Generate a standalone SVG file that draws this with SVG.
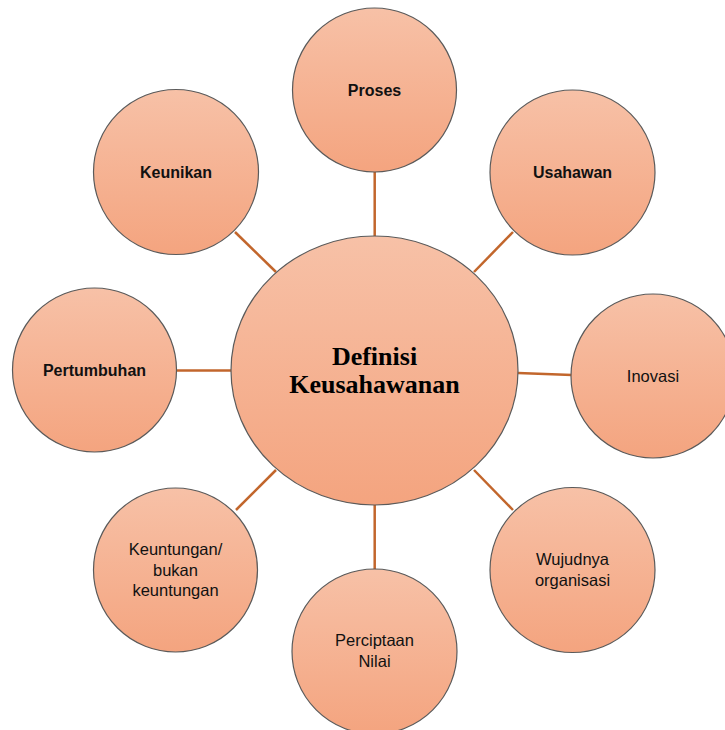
<svg xmlns="http://www.w3.org/2000/svg" width="725" height="730" viewBox="0 0 725 730">
<defs>
<linearGradient id="g" x1="0" y1="0" x2="0" y2="1">
<stop offset="0" stop-color="#F7C1A7"/>
<stop offset="1" stop-color="#F4A47F"/>
</linearGradient>
<style>
.c{fill:url(#g);stroke:#5a5a5a;stroke-width:1.2}
.t{font-family:"Liberation Sans",Arial,sans-serif;font-size:16.5px;fill:#111;text-anchor:middle}
.b{font-weight:bold;font-size:16px}
.m{font-family:"Liberation Serif","Times New Roman",serif;font-size:26px;font-weight:bold;fill:#000;text-anchor:middle}
.l{stroke:#C2662C;stroke-width:2.5;fill:none}
</style>
</defs>
<rect width="725" height="730" fill="#fff"/>
<g id="connectors">
<line class="l" x1="374.7" y1="172" x2="374.7" y2="237"/>
<line class="l" x1="513" y1="232" x2="474" y2="272"/>
<line class="l" x1="518" y1="373" x2="572" y2="375"/>
<line class="l" x1="474" y1="470" x2="513" y2="510"/>
<line class="l" x1="374.7" y1="505" x2="374.7" y2="570"/>
<line class="l" x1="276" y1="470" x2="236" y2="510"/>
<line class="l" x1="176" y1="370.5" x2="232" y2="370.5"/>
<line class="l" x1="235" y1="232" x2="276" y2="272"/>
</g>
<g id="center">
<ellipse class="c" cx="374.5" cy="370.5" rx="143.5" ry="134.5"/>
<text class="m" x="374.5" y="365">Definisi</text>
<text class="m" x="374.5" y="393">Keusahawanan</text>
</g>
<g id="proses">
<circle class="c" cx="374.5" cy="90" r="82"/>
<text class="t b" x="374.5" y="96">Proses</text>
</g>
<g id="usahawan">
<circle class="c" cx="572.5" cy="172.5" r="82.5"/>
<text class="t b" x="572.5" y="178">Usahawan</text>
</g>
<g id="inovasi">
<circle class="c" cx="653" cy="376" r="82"/>
<text class="t" x="653" y="382">Inovasi</text>
</g>
<g id="wujudnya">
<circle class="c" cx="572.5" cy="570" r="82.5"/>
<text class="t" x="572.5" y="565">Wujudnya</text>
<text class="t" x="572.5" y="586">organisasi</text>
</g>
<g id="perciptaan">
<circle class="c" cx="374.5" cy="651.5" r="82.5"/>
<text class="t" x="374.5" y="646">Perciptaan</text>
<text class="t" x="374.5" y="667">Nilai</text>
</g>
<g id="keuntungan">
<circle class="c" cx="175.5" cy="570" r="82"/>
<text class="t" x="175.5" y="555">Keuntungan/</text>
<text class="t" x="175.5" y="576">bukan</text>
<text class="t" x="175.5" y="596">keuntungan</text>
</g>
<g id="pertumbuhan">
<circle class="c" cx="94.5" cy="370" r="82"/>
<text class="t b" x="94.5" y="376">Pertumbuhan</text>
</g>
<g id="keunikan">
<circle class="c" cx="176" cy="172" r="82.5"/>
<text class="t b" x="176" y="178">Keunikan</text>
</g>
</svg>
